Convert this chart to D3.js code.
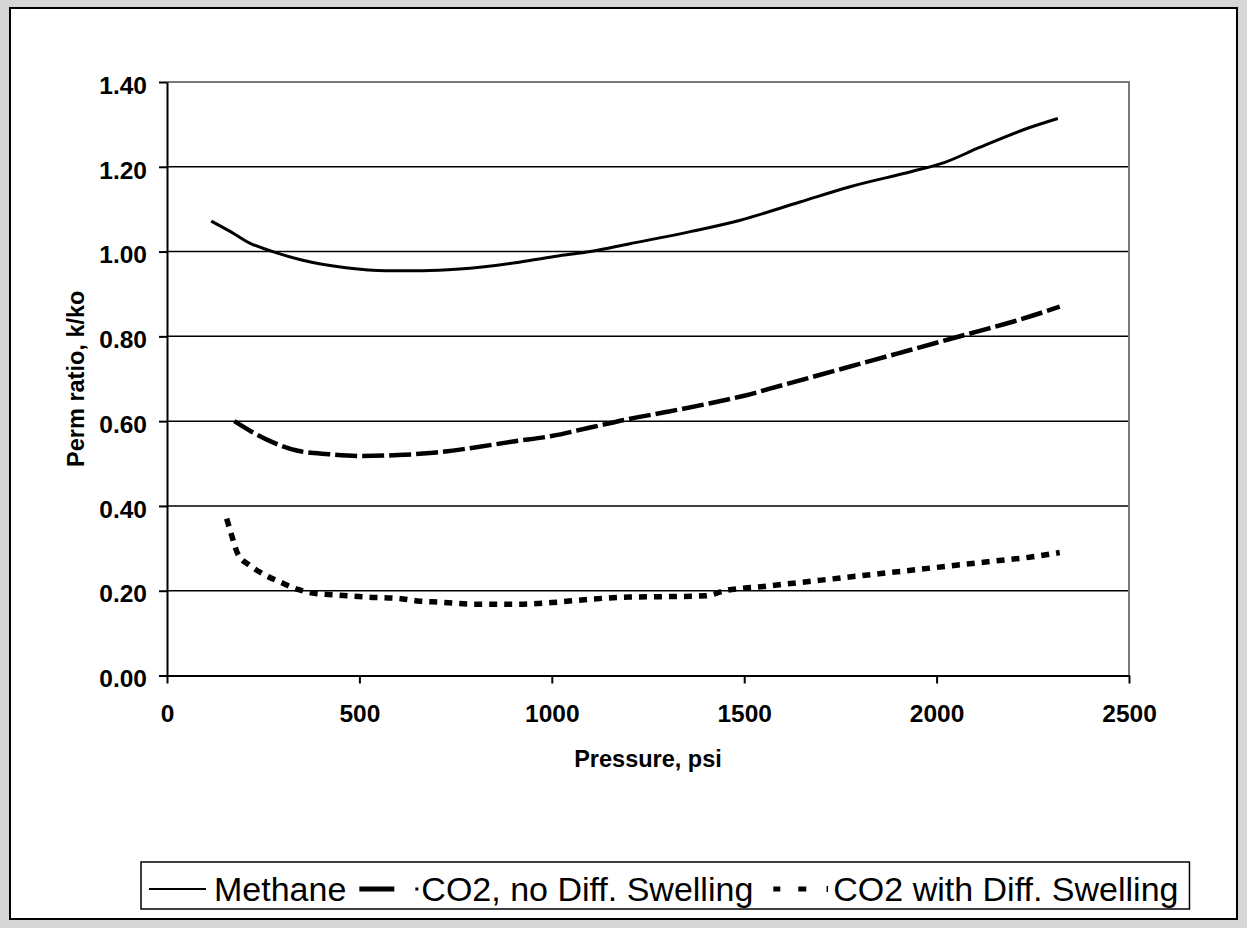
<!DOCTYPE html>
<html>
<head>
<meta charset="utf-8">
<script src="https://cdn.jsdelivr.net/npm/d3@7"></script>
<style>
  html, body { margin: 0; padding: 0; background: #d6d6d6; }
  svg { display: block; }
  text { font-family: "Liberation Sans", Arial, sans-serif; fill: #000; }
</style>
</head>
<body>
<svg id="chart" width="1247" height="928"></svg>
<script>
// Pressure (psi) and permeability ratio k/ko for each case
const methanePressure = [115, 165, 215, 275, 350, 465, 570, 665, 760, 915, 1020, 1100, 1200, 1360, 1490, 1645, 1775, 1940, 2020, 2110, 2240, 2315];
const methaneRatio    = [1.072, 1.047, 1.020, 1.000, 0.980, 0.962, 0.955, 0.955, 0.959, 0.975, 0.990, 1.000, 1.018, 1.047, 1.074, 1.117, 1.153, 1.190, 1.210, 1.245, 1.292, 1.314];

const co2NoDiffPressure = [175, 220, 280, 340, 420, 500, 600, 700, 800, 900, 1000, 1100, 1200, 1300, 1400, 1500, 1600, 1700, 1800, 1900, 2000, 2100, 2200, 2320];
const co2NoDiffRatio    = [0.600, 0.575, 0.548, 0.530, 0.522, 0.518, 0.520, 0.526, 0.538, 0.552, 0.565, 0.585, 0.605, 0.622, 0.640, 0.660, 0.685, 0.710, 0.735, 0.760, 0.785, 0.810, 0.835, 0.870];

const co2DiffPressure = [155, 165, 185, 215, 255, 300, 340, 375, 440, 520, 600, 650, 710, 800, 900, 1000, 1100, 1200, 1300, 1400, 1450, 1550, 1700, 1850, 2000, 2150, 2250, 2320];
const co2DiffRatio    = [0.370, 0.340, 0.285, 0.260, 0.237, 0.218, 0.203, 0.195, 0.190, 0.185, 0.182, 0.176, 0.173, 0.168, 0.168, 0.172, 0.180, 0.185, 0.186, 0.188, 0.200, 0.210, 0.225, 0.240, 0.255, 0.270, 0.280, 0.290];

const seriesNames = ["Methane", "CO2, no Diff. Swelling", "CO2 with Diff. Swelling"];
const xTicks = [0, 500, 1000, 1500, 2000, 2500];
const yTicks = [0, 0.2, 0.4, 0.6, 0.8, 1.0, 1.2, 1.4];
const xTitle = "Pressure, psi";
const yTitle = "Perm ratio, k/ko";

const svg = d3.select("#chart");

// Chart panel
svg.append("rect")
  .attr("x", 10).attr("y", 8).attr("width", 1227).attr("height", 911)
  .attr("fill", "#fff").attr("stroke", "#000").attr("stroke-width", 2);

const plot = { left: 167, top: 82, right: 1129, bottom: 675.5 };
const x = d3.scaleLinear().domain([0, 2500]).range([plot.left, plot.right]);
const y = d3.scaleLinear().domain([0, 1.4]).range([plot.bottom, plot.top]);

// Horizontal gridlines
svg.append("g").selectAll("line").data(yTicks.filter(d => d > 0 && d < 1.4)).join("line")
  .attr("x1", plot.left).attr("x2", plot.right)
  .attr("y1", d => y(d)).attr("y2", d => y(d))
  .attr("stroke", "#000").attr("stroke-width", 1.5);

// Plot-area border on top and right
svg.append("path")
  .attr("d", `M${plot.left},${plot.top}H${plot.right}V${plot.bottom}`)
  .attr("fill", "none").attr("stroke", "#7a7a7a").attr("stroke-width", 2);

// Axes
const yAxis = d3.axisLeft(y).tickValues(yTicks).tickFormat(d3.format(".2f")).tickSizeInner(8).tickSizeOuter(0).tickPadding(12);
const xAxis = d3.axisBottom(x).tickValues(xTicks).tickFormat(d3.format("d")).tickSizeInner(8).tickSizeOuter(0).tickPadding(21);

const gy = svg.append("g").attr("transform", `translate(${plot.left},0)`).call(yAxis);
const gx = svg.append("g").attr("transform", `translate(0,${plot.bottom})`).call(xAxis);

[gx, gy].forEach(g => {
  g.select(".domain").attr("stroke", "#000").attr("stroke-width", 2);
  g.selectAll(".tick line").attr("stroke", "#000").attr("stroke-width", 2);
  g.selectAll(".tick text")
    .attr("font-family", "'Liberation Sans', Arial, sans-serif")
    .attr("font-size", 24.5).attr("font-weight", "bold").attr("fill", "#000");
});
gy.selectAll(".tick text").attr("dy", "0.46em");

// Axis titles
svg.append("text").text(xTitle)
  .attr("x", (plot.left + plot.right) / 2).attr("y", 767)
  .attr("text-anchor", "middle").attr("font-size", 23.5).attr("font-weight", "bold");

svg.append("text").text(yTitle)
  .attr("transform", `translate(84,${(plot.top + plot.bottom) / 2}) rotate(-90)`)
  .attr("text-anchor", "middle").attr("font-size", 23.5).attr("font-weight", "bold");

// Series
const line = d3.line().x(d => x(d[0])).y(d => y(d[1])).curve(d3.curveMonotoneX);
const series = [
  { p: methanePressure, v: methaneRatio, width: 3, dash: null },
  { p: co2NoDiffPressure, v: co2NoDiffRatio, width: 4.5, dash: "22,5" },
  { p: co2DiffPressure, v: co2DiffRatio, width: 5.5, dash: "8,7" }
];
series.forEach(s => {
  svg.append("path")
    .datum(d3.zip(s.p, s.v))
    .attr("d", line)
    .attr("fill", "none").attr("stroke", "#000")
    .attr("stroke-width", s.width)
    .attr("stroke-dasharray", s.dash);
});

// Legend
const legend = svg.append("g");
const legendBox = legend.append("rect")
  .attr("x", 141).attr("y", 862).attr("height", 47)
  .attr("fill", "#fff").attr("stroke", "#000").attr("stroke-width", 1.5);

const fontSize = 34;
const baseY = 901;
const midY = 889;
let cx = 149;

function addSample(segments) {
  // each segment: [offset, length, stroke width, vertical extent]
  segments.forEach(([off, len, w, h]) => {
    if (h) {
      legend.append("line")
        .attr("x1", cx + off).attr("x2", cx + off)
        .attr("y1", midY - h / 2).attr("y2", midY + h / 2)
        .attr("stroke", "#000").attr("stroke-width", w);
    } else {
      legend.append("line")
        .attr("x1", cx + off).attr("x2", cx + off + len)
        .attr("y1", midY).attr("y2", midY)
        .attr("stroke", "#000").attr("stroke-width", w);
    }
  });
}
function addText(str) {
  const t = legend.append("text").text(str)
    .attr("x", cx).attr("y", baseY).attr("font-size", fontSize);
  cx += t.node().getComputedTextLength();
}

addSample([[0, 57, 2]]); cx += 65;
addText(seriesNames[0]); cx += 13;
addSample([[0, 35, 5], [56, 3, 3]]); cx += 62;
addText(seriesNames[1]); cx += 20;
addSample([[0, 7, 5], [25, 8, 5], [54, 0, 1.5, 6]]); cx += 60;
addText(seriesNames[2]);
legendBox.attr("width", cx + 11 - 141);
</script>
</body>
</html>
